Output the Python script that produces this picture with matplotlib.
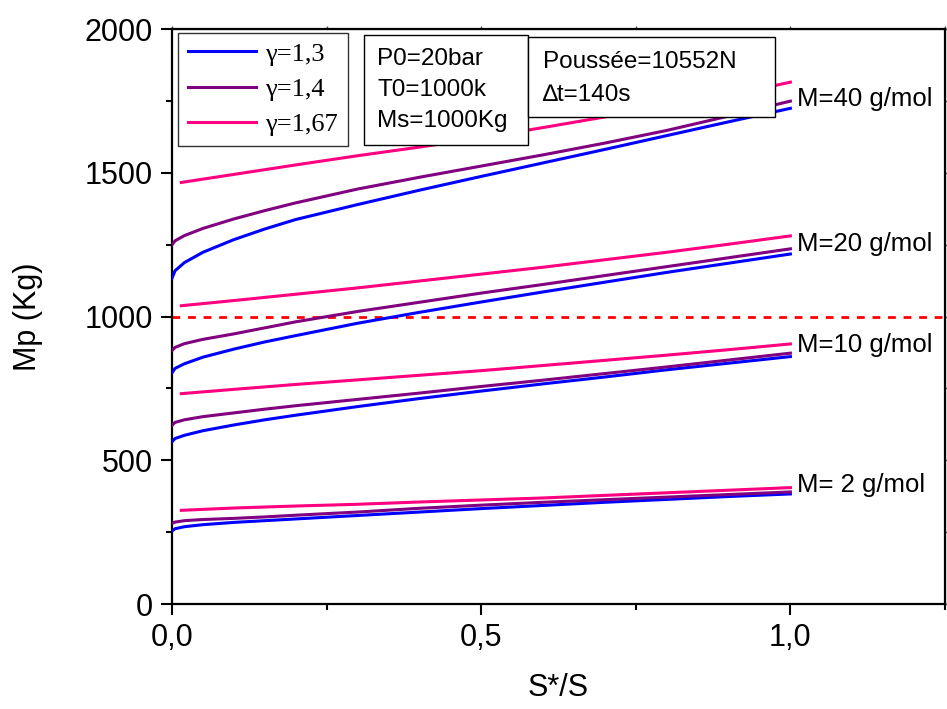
import matplotlib
matplotlib.use("Agg")
import matplotlib.pyplot as plt
from matplotlib.patches import Rectangle
from matplotlib.ticker import MultipleLocator, FixedLocator

plt.rcParams['font.family'] = ['Liberation Sans', 'DejaVu Sans']

# ---------------- data ----------------
x_fast = [0, 0.005, 0.02, 0.05, 0.1, 0.15, 0.2, 0.3, 0.4, 0.5, 0.6, 0.7, 0.8, 0.9, 1.0]
x_pink = [0.015, 0.1, 0.2, 0.3, 0.4, 0.5, 0.6, 0.7, 0.8, 0.9, 1.0]

# M = 40 g/mol
m40_g13 = [1134, 1160, 1188, 1224, 1268, 1305, 1338, 1390, 1440, 1488, 1535, 1582, 1630, 1678, 1725]
m40_g14 = [1250, 1264, 1282, 1307, 1340, 1369, 1396, 1444, 1485, 1524, 1563, 1604, 1648, 1698, 1750]
m40_g167 = [1467, 1495, 1528, 1560, 1590, 1622, 1658, 1695, 1732, 1770, 1816]
# M = 20 g/mol
m20_g13 = [805, 820, 836, 859, 887, 912, 934, 977, 1015, 1051, 1086, 1120, 1154, 1186, 1218]
m20_g14 = [882, 893, 906, 921, 940, 961, 982, 1018, 1050, 1082, 1112, 1143, 1174, 1205, 1236]
m20_g167 = [1038, 1056, 1078, 1100, 1124, 1148, 1172, 1198, 1224, 1252, 1281]
# M = 10 g/mol
m10_g13 = [565, 576, 587, 603, 623, 641, 657, 687, 715, 741, 766, 790, 815, 838, 861]
m10_g14 = [622, 632, 641, 652, 665, 678, 690, 712, 734, 757, 779, 802, 825, 849, 873]
m10_g167 = [732, 747, 764, 780, 796, 812, 830, 848, 866, 885, 905]
# M = 2 g/mol
m2_g13 = [254, 262, 269, 276, 284, 290, 296, 308, 320, 332, 343, 354, 364, 374, 383]
m2_g14 = [281, 285, 290, 294, 298, 303, 309, 320, 333, 344, 354, 363, 372, 381, 390]
m2_g167 = [326, 334, 341, 347, 355, 362, 369, 378, 387, 396, 405]

gamma_labels = ["γ=1,3", "γ=1,4", "γ=1,67"]
mass_labels = ["M=40 g/mol", "M=20 g/mol", "M=10 g/mol", "M= 2 g/mol"]
mass_label_y = [1758, 1253, 902, 414]
limit_value = 1000
xticks_major = [0.0, 0.5, 1.0]
xtick_labels = ["0,0", "0,5", "1,0"]
yticks_major = [0, 500, 1000, 1500, 2000]

params_text = ["P0=20bar", "T0=1000k", "Ms=1000Kg"]
thrust_text = ["Poussée=10552N", "∆t=140s"]

# ---------------- figure ----------------
W, H = 947, 709
fig = plt.figure(figsize=(W / 100, H / 100), dpi=100)
L, R, T, B = 172, 945, 29.3, 604
ax = fig.add_axes([L / W, (H - B) / H, (R - L) / W, (B - T) / H])

c13, c14, c167 = "#0000FF", "#800080", "#FF0080"
lw = 2.2

groups = [(m40_g13, m40_g14, m40_g167), (m20_g13, m20_g14, m20_g167),
          (m10_g13, m10_g14, m10_g167), (m2_g13, m2_g14, m2_g167)]
for i, (a, b, c) in enumerate(groups):
    ax.plot(x_fast, a, color=c13, lw=lw, label=gamma_labels[0] if i == 0 else None, zorder=3)
    ax.plot(x_fast, b, color=c14, lw=lw, label=gamma_labels[1] if i == 0 else None, zorder=3)
    ax.plot(x_pink, c, color=c167, lw=lw, label=gamma_labels[2] if i == 0 else None, zorder=3)

ax.axhline(limit_value, color="#FF0000", lw=2.0, ls=(0, (2.8, 2.8)), zorder=2)

for lab, yv in zip(mass_labels, mass_label_y):
    ax.text(1.011, yv, lab, fontsize=18.5, va="center", ha="left", zorder=4)

ax.set_xlim(0, 1.25)
ax.set_ylim(0, 2000)
ax.xaxis.set_major_locator(FixedLocator(xticks_major))
ax.set_xticklabels(xtick_labels)
ax.xaxis.set_minor_locator(FixedLocator([0.25, 0.75, 1.25]))
ax.yaxis.set_major_locator(FixedLocator(yticks_major))
ax.yaxis.set_minor_locator(MultipleLocator(250))

ax.tick_params(axis="both", which="major", direction="out", length=8, width=1.5,
               labelsize=22, pad=6)
ax.tick_params(axis="both", which="minor", direction="out", length=4, width=1.5)
for s in ax.spines.values():
    s.set_linewidth(1.6)

# short ticks on top/right
ax2 = ax.secondary_xaxis("top")
ax2.set_xticks(xticks_major)
ax2.set_xticks([0.25, 0.75, 1.25], minor=True)
ax2.tick_params(which="both", direction="out", length=2, width=1, labeltop=False, color="#555555")
ax2.set_xticklabels([])
ax3 = ax.secondary_yaxis("right")
ax3.set_yticks(yticks_major)
ax3.set_yticks(list(range(250, 2000, 500)), minor=True)
ax3.tick_params(which="both", direction="out", length=2, width=1, labelright=False, color="#555555")
ax3.set_yticklabels([])
ax.tick_params(top=False, right=False, which="both")

ax.set_xlabel("S*/S", fontsize=22, labelpad=14)
ax.set_ylabel("Mp (Kg)", fontsize=22, labelpad=30)

# legend
leg = ax.legend(loc="upper left", bbox_to_anchor=((178 - L) / (R - L), (B - 32.7) / (B - T)),
                borderaxespad=0, prop={"family": "Liberation Serif", "size": 19},
                handlelength=2.6, handletextpad=0.35, labelspacing=0.45,
                borderpad=0.36, frameon=True, fancybox=False, edgecolor="black")
leg.get_frame().set_linewidth(1.0)
for ln in leg.get_lines():
    ln.set_linewidth(2.2)
leg.set_zorder(6)

def px2ax(px, py):
    return (px - L) / (R - L), (B - py) / (B - T)

def box(x0, y0, x1, y1):
    ax0, ay1 = px2ax(x0, y0)
    ax1, ay0 = px2ax(x1, y1)
    ax.add_patch(Rectangle((ax0, ay0), ax1 - ax0, ay1 - ay0, transform=ax.transAxes,
                           facecolor="white", edgecolor="black", lw=1.0, zorder=5))

box(364, 35, 528, 145)
for t, py in zip(params_text, [58.7, 89.5, 121]):
    xx, yy = px2ax(377, py)
    ax.text(xx, yy, t, transform=ax.transAxes, fontsize=17.5, va="center", ha="left", zorder=7)

box(528, 37, 775, 117)
for t, py in zip(thrust_text, [62, 95]):
    xx, yy = px2ax(543, py)
    ax.text(xx, yy, t, transform=ax.transAxes, fontsize=17.5, va="center", ha="left", zorder=7)

fig.savefig("out.png", dpi=100)
